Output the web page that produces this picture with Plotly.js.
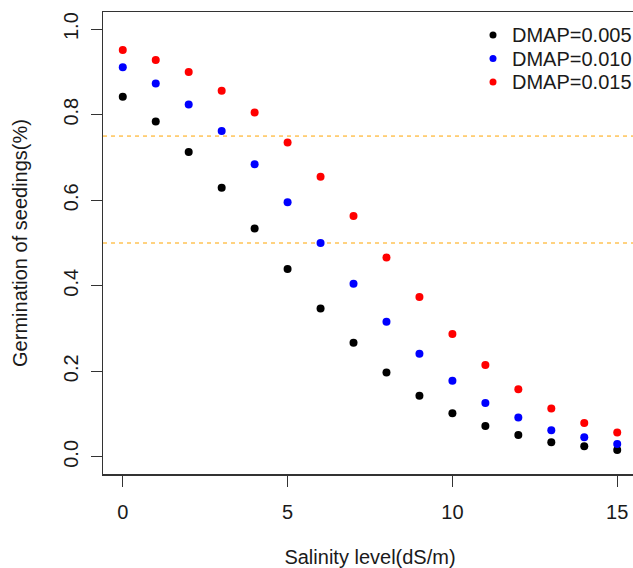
<!DOCTYPE html>
<html>
<head>
<meta charset="utf-8">
<script src="https://cdn.plot.ly/plotly-3.0.1.min.js"></script>
<style>
html, body { margin: 0; padding: 0; overflow: hidden; background: #fff; }
#chart { width: 660px; height: 568px; }
</style>
</head>
<body>
<div id="chart"></div>
<script>
const salinity = [0,1,2,3,4,5,6,7,8,9,10,11,12,13,14,15];
const dmap005 = [0.842,0.784,0.713,0.629,0.534,0.439,0.347,0.267,0.197,0.143,0.102,0.072,0.051,0.034,0.025,0.016];
const dmap010 = [0.911,0.873,0.824,0.762,0.684,0.595,0.500,0.405,0.316,0.241,0.178,0.126,0.092,0.062,0.046,0.030];
const dmap015 = [0.951,0.928,0.900,0.856,0.805,0.735,0.655,0.563,0.466,0.374,0.287,0.215,0.158,0.113,0.079,0.057];
const seriesNames = ["DMAP=0.005","DMAP=0.010","DMAP=0.015"];
const seriesColors = ["#000000","#0000FF","#FF0000"];
const refLevels = [0.75, 0.5];
const xTicks = [0,5,10,15];
const yTicks = [0,0.2,0.4,0.6,0.8,1.0];

const font = "Liberation Sans, Arial, sans-serif";
const fs = 20;
const textColor = "#1a1a1a";

// plot area in pixels
const W = 660, H = 568;
const M = {l: 103, r: 23, t: 12, b: 94};
const plotW = W - M.l - M.r, plotH = H - M.t - M.b;
const px2x = p => (p - M.l) / plotW;
const px2y = p => (H - M.b - p) / plotH;

const allSeries = [dmap005, dmap010, dmap015];
const traces = allSeries.map((ys, i) => ({
  type: "scatter", mode: "markers",
  x: salinity, y: ys, name: seriesNames[i],
  marker: {color: seriesColors[i], size: 8, line: {width: 0}},
  cliponaxis: false, showlegend: false
}));

const shapes = refLevels.map(v => ({
  type: "line", xref: "paper", x0: 0, x1: 1, yref: "y", y0: v, y1: v,
  line: {color: "#FFA500", width: 1, dash: "4px,4px"}, layer: "below"
}));

// manual legend (R-style, no box)
const legMarkerX = 493, legTextX = 510, legRowY = [35, 58.5, 82];
const annotations = [];
seriesNames.forEach((name, i) => {
  shapes.push({
    type: "circle", xref: "paper", yref: "paper",
    xsizemode: "pixel", ysizemode: "pixel",
    xanchor: px2x(legMarkerX), yanchor: px2y(legRowY[i]),
    x0: -3.5, x1: 3.5, y0: -3.5, y1: 3.5,
    fillcolor: seriesColors[i], line: {width: 0}
  });
  annotations.push({
    xref: "paper", yref: "paper", x: px2x(legTextX), y: px2y(legRowY[i]),
    xanchor: "left", yanchor: "middle", showarrow: false, text: name,
    font: {family: font, size: fs, color: textColor}
  });
});

const layout = {
  width: W, height: H,
  margin: M,
  paper_bgcolor: "#fff", plot_bgcolor: "#fff",
  font: {family: font, size: fs, color: textColor},
  showlegend: false,
  xaxis: {
    range: [-0.6, 15.6], tickvals: xTicks, ticktext: xTicks.map(String),
    ticks: "outside", ticklen: 11, tickcolor: "#333", tickwidth: 1,
    showgrid: false, zeroline: false, showline: true, mirror: true,
    linecolor: "#333", linewidth: 1.5, automargin: false,
    tickfont: {family: font, size: fs, color: textColor},
    ticklabelstandoff: 8,
    title: {text: "Salinity level(dS/m)", standoff: 34, font: {family: font, size: fs, color: textColor}}
  },
  yaxis: {
    range: [-0.04, 1.04], tickvals: yTicks, ticktext: yTicks.map(v => v.toFixed(1)),
    ticks: "outside", ticklen: 11, tickcolor: "#333", tickwidth: 1,
    showgrid: false, zeroline: false, showline: true, mirror: true,
    linecolor: "#333", linewidth: 1.5, tickangle: -90, automargin: false,
    tickfont: {family: font, size: fs, color: textColor},
    ticklabelstandoff: 5,
    title: {text: "Germination of seedings(%)", standoff: 26, font: {family: font, size: fs, color: textColor}}
  },
  shapes: shapes,
  annotations: annotations
};

Plotly.newPlot("chart", traces, layout, {displayModeBar: false, staticPlot: true});
</script>
</body>
</html>
